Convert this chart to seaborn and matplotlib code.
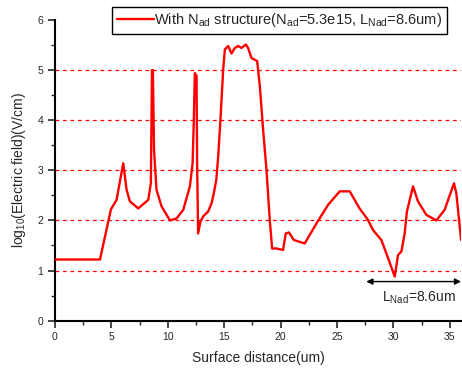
import matplotlib
matplotlib.use("Agg")
import matplotlib.pyplot as plt
from matplotlib.ticker import MultipleLocator
import seaborn as sns
import pandas as pd

distance = [0.0, 3.99, 4.96, 5.3, 5.46, 6.05, 6.35, 6.64, 7.38, 8.27, 8.5, 8.6, 8.68,
            8.78, 9.0, 9.45, 10.19, 10.78, 11.37, 11.96, 12.2, 12.31, 12.4, 12.55,
            12.6, 12.69, 12.9, 13.14, 13.58, 13.88, 14.08, 14.3, 14.47, 14.67, 14.91,
            15.06, 15.35, 15.65, 15.94, 16.24, 16.53, 16.92, 17.12, 17.42, 17.92,
            18.16, 18.45, 18.75, 19.04, 19.25, 19.63, 20.22, 20.46, 20.75, 21.17,
            22.14, 23.18, 24.21, 25.24, 26.13, 27.0, 27.75, 28.19, 28.93, 29.38,
            30.12, 30.41, 30.71, 31.0, 31.2, 31.74, 32.18, 32.92, 33.81, 34.54,
            35.37, 35.58, 36.0]
log_field = [1.22, 1.22, 2.22, 2.35, 2.41, 3.14, 2.61, 2.38, 2.24, 2.41, 2.74, 5.0, 5.0,
             3.41, 2.61, 2.28, 2.0, 2.04, 2.21, 2.68, 3.14, 4.01, 4.94, 4.88,
             3.15, 1.74, 1.98, 2.08, 2.18, 2.34, 2.54, 2.81, 3.28, 4.01, 5.01,
             5.41, 5.48, 5.33, 5.44, 5.48, 5.44, 5.51, 5.44, 5.24, 5.18,
             4.68, 3.81, 3.01, 2.01, 1.44, 1.44, 1.41, 1.74, 1.76, 1.61,
             1.54, 1.94, 2.31, 2.58, 2.58, 2.24, 2.01, 1.81, 1.61, 1.34,
             0.88, 1.31, 1.38, 1.74, 2.18, 2.68, 2.38, 2.11, 2.0, 2.21,
             2.74, 2.54, 1.61]
grid_levels = [1, 2, 3, 4, 5]
x_ticks = [0, 5, 10, 15, 20, 25, 30, 35]
y_ticks = [0, 1, 2, 3, 4, 5, 6]
label = r"With N$_{\mathrm{ad}}$ structure(N$_{\mathrm{ad}}$=5.3e15, L$_{\mathrm{Nad}}$=8.6um)"
arrow_span = [27.6, 36.0]

df = pd.DataFrame({"x": distance, "y": log_field})

sns.set_style("ticks")
plt.rcParams["font.family"] = ["Liberation Sans", "DejaVu Sans"]
plt.rcParams["mathtext.fontset"] = "custom"
plt.rcParams["mathtext.rm"] = "Liberation Sans"
plt.rcParams["mathtext.it"] = "Liberation Sans:italic"
plt.rcParams["mathtext.bf"] = "Liberation Sans:bold"

fig = plt.figure(figsize=(4.62, 3.69), dpi=100)
ax = fig.add_axes([0.119, 0.131, 0.879, 0.815])

for g in grid_levels:
    ax.axhline(g, color="red", lw=0.9, ls=(0, (3, 3)), zorder=1)

sns.lineplot(data=df, x="x", y="y", ax=ax, color="#ff0000", lw=1.7,
             sort=False, estimator=None, label=label, zorder=3)

ax.set_xlim(0, 36)
ax.set_ylim(0, 6)
ax.set_xticks(x_ticks)
ax.set_yticks(y_ticks)
ax.xaxis.set_minor_locator(MultipleLocator(2.5))
ax.yaxis.set_minor_locator(MultipleLocator(0.5))
ax.tick_params(which="major", direction="out", length=5, width=1.2, labelsize=7.5, pad=3.5)
ax.tick_params(which="minor", direction="out", length=3, width=1.0)
for s in ["top", "right"]:
    ax.spines[s].set_visible(False)
for s in ["left", "bottom"]:
    ax.spines[s].set_linewidth(1.5)
    ax.spines[s].set_color("black")

ax.set_xlabel("Surface distance(um)", fontsize=10, labelpad=6)
ax.set_ylabel(r"log$_{\mathrm{10}}$(Electric field)(V/cm)", fontsize=10, labelpad=7)

ax.annotate("", xy=(arrow_span[0], 0.78), xytext=(arrow_span[1], 0.78),
            arrowprops=dict(arrowstyle="<|-|>", color="black", lw=1.0,
                            mutation_scale=9, shrinkA=0, shrinkB=0),
            annotation_clip=False)
ax.text(32.3, 0.45, r"L$_{\mathrm{Nad}}$=8.6um", fontsize=10, ha="center", va="center")

leg = ax.legend(loc="upper right", bbox_to_anchor=(447 / 462, 1 - 7 / 369),
                bbox_transform=fig.transFigure, frameon=True, fancybox=False,
                fontsize=10.5, handlelength=2.6, handletextpad=0.0,
                borderpad=0.3, borderaxespad=0)
leg.get_frame().set_edgecolor("black")
leg.get_frame().set_linewidth(1.0)
leg.get_frame().set_alpha(1)

fig.savefig("out.png", dpi=100)
